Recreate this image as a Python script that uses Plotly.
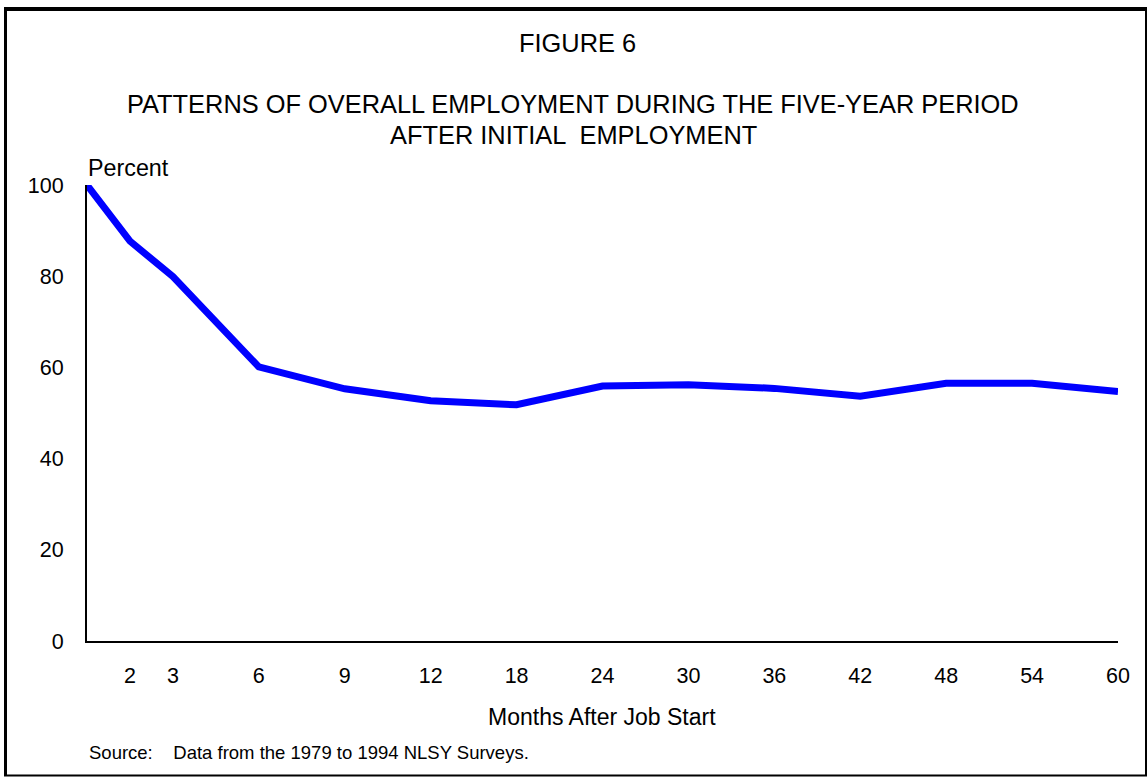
import plotly.graph_objects as go

# ---- data ----
months = [1, 2, 3, 6, 9, 12, 18, 24, 30, 36, 42, 48, 54, 60]
percent_employed = [100, 87.7, 79.9, 60.1, 55.3, 52.7, 51.8, 55.9, 56.2, 55.4, 53.7, 56.5, 56.5, 54.7]
# slot position of each month on the (non-linear) category axis
slot = [0, 1, 2, 4, 6, 8, 10, 12, 14, 16, 18, 20, 22, 24]
tick_labels = ["", "2", "3", "6", "9", "12", "18", "24", "30", "36", "42", "48", "54", "60"]
y_ticks = [0, 20, 40, 60, 80, 100]

W, H = 1148, 777
L, R, T, B = 87, 30, 185, 136
PW, PH = W - L - R, H - T - B

def px(x):
    return (x - L) / PW

def py(y):
    return (H - B - y) / PH

FONT = "Liberation Sans, Arial, sans-serif"

fig = go.Figure()
fig.add_trace(go.Scatter(
    x=slot, y=percent_employed, mode="lines",
    line=dict(color="#0000FF", width=7),
    cliponaxis=False, hoverinfo="skip", showlegend=False,
    customdata=months,
))

fig.update_layout(
    width=W, height=H,
    margin=dict(l=L, r=R, t=T, b=B, pad=0),
    paper_bgcolor="white", plot_bgcolor="white",
    font=dict(family=FONT, color="black", size=22),
    showlegend=False,
    xaxis=dict(
        range=[0, 24], tickmode="array", tickvals=slot, ticktext=tick_labels,
        showgrid=False, zeroline=False, showline=True, linecolor="black", linewidth=2,
        ticks="", ticklabelstandoff=14, tickfont=dict(size=21.5),
        fixedrange=True,
    ),
    yaxis=dict(
        range=[0, 100], tickmode="array", tickvals=y_ticks,
        showgrid=False, zeroline=False, showline=True, linecolor="black", linewidth=2,
        ticks="", ticklabelstandoff=17, tickfont=dict(size=21.5),
        fixedrange=True,
    ),
)

annots = [
    dict(text="FIGURE 6", x=px(577), y=py(43), size=25.4, xanchor="center"),
    dict(text="PATTERNS OF OVERALL EMPLOYMENT DURING THE FIVE-YEAR PERIOD", x=px(573), y=py(104), size=25.4, xanchor="center"),
    dict(text="AFTER INITIAL \u00a0EMPLOYMENT", x=px(573), y=py(134.5), size=25.4, xanchor="center"),
    dict(text="Percent", x=px(86), y=py(168), size=23.3, xanchor="left"),
    dict(text="Months After Job Start", x=px(602), y=py(717), size=23, xanchor="center"),
    dict(text="Source:\u00a0\u00a0\u00a0\u00a0Data from the 1979 to 1994 NLSY Surveys.", x=px(87), y=py(752), size=18.5, xanchor="left"),
]
for a in annots:
    fig.add_annotation(
        text=a["text"], x=a["x"], y=a["y"], xref="paper", yref="paper",
        xanchor=a["xanchor"], yanchor="middle", showarrow=False,
        font=dict(family=FONT, size=a["size"], color="black"),
    )

# outer frame
frame = [
    (4, 9, 1147, 9, 4),        # top
    (5.5, 7, 5.5, 776, 3),     # left
    (1146, 7, 1146, 776, 2),   # right
    (4, 775.5, 1147, 775.5, 2),  # bottom
]
for x0, y0, x1, y1, w in frame:
    fig.add_shape(type="line", xref="paper", yref="paper",
                  x0=px(x0), y0=py(y0), x1=px(x1), y1=py(y1),
                  line=dict(color="black", width=w))

fig.write_html("out.html", config={"displayModeBar": False},
               post_script="document.body.style.margin='0';document.body.style.overflow='hidden';")
